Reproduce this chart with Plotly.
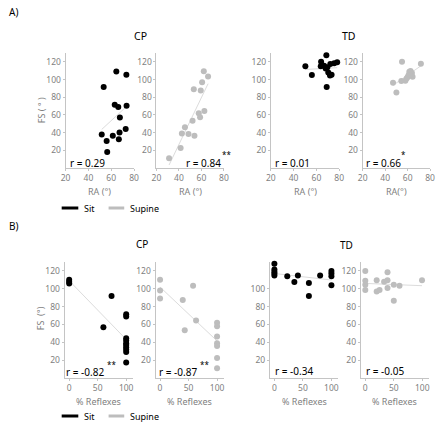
import numpy as np
import plotly.graph_objects as go

W, H = 440, 424
FONT = "Noto Sans"

# ---------------- data ----------------
# Panel A: FS vs RA
A_CP_sit_RA = [64.5, 73.3, 53.4, 63.1, 66.2, 73.5, 67.6, 51.7, 61.4, 56.0, 67.3, 72.7, 66.7, 56.5]
A_CP_sit_FS = [109, 105.5, 91.5, 71.5, 69, 70.5, 57, 38, 36.5, 30.5, 40, 44, 32.5, 18]

A_CP_sup_RA = [62.1, 65.9, 60.6, 53.2, 59.4, 57.6, 62.6, 58.8, 52.1, 45.3, 42.6, 48.5, 53.8, 41.5, 31.2]
A_CP_sup_FS = [109.5, 103.5, 97, 89, 87.5, 62, 64.5, 57.5, 53.5, 46, 39, 38.5, 36.5, 22.5, 11]

A_TD_sit_RA = [50.3, 56.0, 68.7, 64.1, 63.8, 66.7, 69.6, 72.2, 75.6, 78.2, 70.4, 71.9, 73.3, 69.0, 68.1]
A_TD_sit_FS = [115, 105, 127.5, 120, 115, 115.5, 114, 117.5, 118.5, 119.5, 108, 104.5, 105.5, 91.5, 112.5]

A_TD_sup_RA = [55.0, 71.8, 47.0, 50.0, 54.4, 58.0, 60.0, 61.5, 62.6, 63.8, 64.4, 60.9, 59.1]
A_TD_sup_FS = [120, 117.8, 96.5, 85.3, 98.4, 98.7, 102.8, 108.8, 109.6, 107.3, 103.2, 105, 101.3]

# Panel B: FS vs % Reflexes
B_CP_sit_RF = [0, 0, 0, 74.3, 60, 100, 100, 100, 100, 100, 100, 100, 100, 100, 100]
B_CP_sit_FS = [110, 108, 106, 92, 57, 71.5, 69, 44.5, 42, 39, 37, 34.5, 32, 29, 17.5]

B_CP_sup_RF = [0, 0, 0, 39.8, 43.3, 57.9, 63.2, 100, 100, 100, 100, 100, 100, 100]
B_CP_sup_FS = [110, 98, 89, 87.5, 53.5, 103.5, 64.5, 62, 58, 46.5, 39, 36, 22.5, 11]

B_TD_sit_RF = [0, 0, 0, 0, 0, 22.6, 35, 41.2, 60.5, 60.5, 80.2, 100, 100, 100, 100]
B_TD_sit_FS = [128, 121.5, 119, 117, 115, 114, 107.5, 115, 106.5, 92, 115, 120, 117, 114, 104]

B_TD_sup_RF = [0, 0, 0, 0, 20, 20, 25, 33, 39, 39, 39, 50, 50, 60, 99.5]
B_TD_sup_FS = [120, 109, 104.5, 98.5, 109.5, 97, 98.5, 108, 118.5, 109.5, 101, 104.5, 86.5, 103.5, 109.5]

r_texts = ["r = 0.29", "r = 0.84", "r = 0.01", "r = 0.66",
           "r = -0.82", "r = -0.87", "r = -0.34", "r = -0.05"]
sig_marks = ["", "**", "", "*", "**", "**", "", ""]
A_xticks = [20, 40, 60, 80]
B_xticks = [0, 50, 100]
y_ticks = [20, 40, 60, 80, 100, 120]
y_ticks_short = [20, 40, 60, 80, 100]

BLACK = "#000000"
GREY = "#bdbdbd"
LINE = "#dcdcdc"
TICK = "#7f7f7f"
AXL = "#c4c4c4"


def px(x):
    return x / W


def py(y):
    return 1 - y / H


# panel definitions: (x, y, color, xdomain px, ydomain px, xrange, xticks, ytick list, xtitle, r-text pos, sig pos)
panels = [
    (A_CP_sit_RA, A_CP_sit_FS, BLACK, (62, 132), (53, 168), [20, 80], A_xticks, y_ticks, "RA (°)", (64, 163), None),
    (A_CP_sup_RA, A_CP_sup_FS, GREY, (155, 224), (53, 168), [20, 80], A_xticks, y_ticks, "RA (°)", (183, 163), (220, 154)),
    (A_TD_sit_RA, A_TD_sit_FS, BLACK, (272, 342), (53, 168), [20, 80], A_xticks, y_ticks, "RA (°)", (274, 163), None),
    (A_TD_sup_RA, A_TD_sup_FS, GREY, (366, 435), (53, 168), [20, 80], A_xticks, y_ticks, "RA(°)", (367, 163), (403, 154)),
    (B_CP_sit_RF, B_CP_sit_FS, BLACK, (61, 131), (262, 378), [-8, 112], B_xticks, y_ticks, "% Reflexes", (60, 372), (102, 364)),
    (B_CP_sup_RF, B_CP_sup_FS, GREY, (154, 224), (262, 378), [-8, 112], B_xticks, y_ticks, "% Reflexes", (156, 372), (197, 364)),
    (B_TD_sit_RF, B_TD_sit_FS, BLACK, (271, 341), (262, 378), [-8, 112], B_xticks, y_ticks_short, "% Reflexes", (274, 371), None),
    (B_TD_sup_RF, B_TD_sup_FS, GREY, (364, 434), (262, 378), [-8, 112], B_xticks, y_ticks, "% Reflexes", (367, 371), None),
]

fig = go.Figure()
layout = dict(
    width=W, height=H,
    margin=dict(l=0, r=0, t=0, b=0),
    paper_bgcolor="white", plot_bgcolor="white",
    showlegend=False,
    font=dict(family=FONT),
)
annotations = []
shapes = []

for i, (xs, ys, col, xd, yd, xr, xt, yt, xtitle, rpos, spos) in enumerate(panels):
    k = i + 1
    xa = "x" if k == 1 else f"x{k}"
    ya = "y" if k == 1 else f"y{k}"
    xs_a = np.array(xs, dtype=float)
    ys_a = np.array(ys, dtype=float)
    slope, icpt = np.polyfit(xs_a, ys_a, 1)
    lx = np.array([xs_a.min(), xs_a.max()])
    fig.add_trace(go.Scatter(x=lx, y=slope * lx + icpt, mode="lines",
                             line=dict(color=LINE, width=1), xaxis=xa, yaxis=ya,
                             hoverinfo="skip"))
    fig.add_trace(go.Scatter(x=xs, y=ys, mode="markers",
                             marker=dict(color=col, size=6, line=dict(width=0)),
                             xaxis=xa, yaxis=ya, cliponaxis=False))
    xkey = "xaxis" if k == 1 else f"xaxis{k}"
    ykey = "yaxis" if k == 1 else f"yaxis{k}"
    layout[xkey] = dict(domain=[px(xd[0]), px(xd[1])], range=xr, anchor=ya,
                        tickvals=xt, showline=True, linecolor=AXL, linewidth=1,
                        showgrid=False, zeroline=False, ticks="outside", ticklen=2,
                        tickcolor=AXL, tickfont=dict(size=8.5, color=TICK, family=FONT),
                        fixedrange=True)
    layout[ykey] = dict(domain=[py(yd[1]), py(yd[0])], range=[0, 130], anchor=xa,
                        tickvals=yt, showline=True, linecolor=AXL, linewidth=1,
                        showgrid=False, zeroline=False, ticks="outside", ticklen=2,
                        tickcolor=AXL, tickfont=dict(size=8.5, color=TICK, family=FONT),
                        fixedrange=True)
    # x title
    annotations.append(dict(text=xtitle, x=px((xd[0] + xd[1]) / 2), y=py(yd[1] + 23),
                            xref="paper", yref="paper", showarrow=False,
                            xanchor="center", yanchor="middle",
                            font=dict(size=9, color=TICK, family=FONT)))
    # r text
    annotations.append(dict(text=r_texts[i], x=px(rpos[0]), y=py(rpos[1]),
                            xref="paper", yref="paper", showarrow=False,
                            xanchor="left", yanchor="middle",
                            font=dict(size=10, color="#000", family=FONT)))
    if sig_marks[i] and spos:
        annotations.append(dict(text=sig_marks[i], x=px(spos[0]), y=py(spos[1]),
                                xref="paper", yref="paper", showarrow=False,
                                xanchor="left", yanchor="middle",
                                font=dict(size=8, color="#000", family=FONT)))

# y titles
for txt, (x0, y0) in [("FS ( ° )", (37, 110)), ("FS  (°)", (36, 318))]:
    annotations.append(dict(text=txt, x=px(x0), y=py(y0), xref="paper", yref="paper",
                            showarrow=False, textangle=-90, xanchor="center", yanchor="middle",
                            font=dict(size=9, color=TICK, family=FONT)))

# group titles and section labels
for txt, (x0, y0), sz, anc in [("CP", (139, 36), 10.5, "center"), ("TD", (352, 36), 10.5, "center"),
                               ("CP", (140, 244), 10, "center"), ("TD", (349, 245), 10, "center"),
                               ("A)", (2, 12), 10, "left"), ("B)", (2, 226), 10, "left")]:
    annotations.append(dict(text=txt, x=px(x0), y=py(y0), xref="paper", yref="paper",
                            showarrow=False, xanchor=anc,
                            yanchor="middle", font=dict(size=sz, color="#000", family=FONT)))

# legends
for ly in (208, 416):
    shapes.append(dict(type="line", xref="paper", yref="paper",
                       x0=px(58), x1=px(75), y0=py(ly), y1=py(ly),
                       line=dict(color=BLACK, width=3)))
    shapes.append(dict(type="line", xref="paper", yref="paper",
                       x0=px(106), x1=px(122), y0=py(ly), y1=py(ly),
                       line=dict(color=GREY, width=3)))
    annotations.append(dict(text="Sit", x=px(79), y=py(ly), xref="paper", yref="paper",
                            showarrow=False, xanchor="left", yanchor="middle",
                            font=dict(size=9, color="#000", family=FONT)))
    annotations.append(dict(text="Supine", x=px(126), y=py(ly), xref="paper", yref="paper",
                            showarrow=False, xanchor="left", yanchor="middle",
                            font=dict(size=9, color="#000", family=FONT)))

layout["annotations"] = annotations
layout["shapes"] = shapes
fig.update_layout(**layout)
fig.write_html("out.html", config={"displayModeBar": False},
               post_script="document.body.style.margin='0';document.body.style.overflow='hidden';")
